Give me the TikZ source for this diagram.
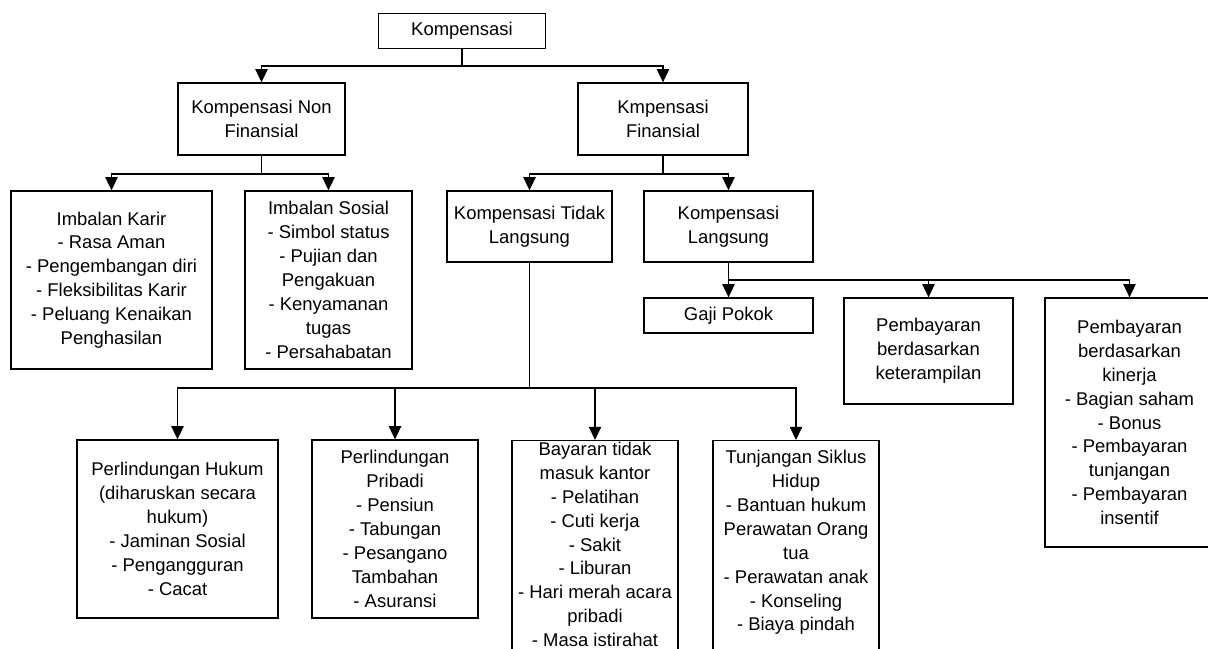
\documentclass[tikz,border=0pt]{standalone}
\usepackage{fontspec}
\setmainfont{Liberation Sans}
\usetikzlibrary{arrows.meta}

\begin{document}
\begin{tikzpicture}[x=0.02cm, y=-0.02cm,
    kotak/.style={draw, line width=0.75pt, align=center, inner sep=2pt, font=\fontsize{10.5}{13.6}\selectfont},
    panah/.style={-{Triangle[width=7pt,length=7.5pt]}, line width=0.75pt}]
      \useasboundingbox[fill=white] (0,0) rectangle (1208,649);
      \clip (0,0) rectangle (1208,649);
      % tingkat atas
      \node[kotak, minimum width=3.34cm, minimum height=0.70cm] (komp) at (462,31) {Kompensasi};
      \node[kotak, minimum width=3.34cm, minimum height=1.44cm] (nonfin) at (261.5,119) {Kompensasi Non\\Finansial};
      \node[kotak, minimum width=3.40cm, minimum height=1.44cm] (fin) at (663,119) {Kmpensasi\\Finansial};
      % non finansial
      \node[kotak, minimum width=4.02cm, minimum height=3.56cm] (karir) at (111.5,280) {Imbalan Karir\\- Rasa Aman\\- Pengembangan diri\\- Fleksibilitas Karir\\- Peluang Kenaikan\\Penghasilan};
      \node[kotak, minimum width=3.34cm, minimum height=3.56cm] (sosial) at (328.5,280) {Imbalan Sosial\\- Simbol status\\- Pujian dan\\Pengakuan\\- Kenyamanan\\tugas\\- Persahabatan};
      % finansial
      \node[kotak, minimum width=3.30cm, minimum height=1.42cm] (tidak) at (529.5,226.5) {Kompensasi Tidak\\Langsung};
      \node[kotak, minimum width=3.38cm, minimum height=1.42cm] (langsung) at (728.5,226.5) {Kompensasi\\Langsung};
      \node[kotak, minimum width=3.38cm, minimum height=0.70cm] (gaji) at (728.5,315.5) {Gaji Pokok};
      \node[kotak, minimum width=3.38cm, minimum height=2.12cm] (terampil) at (928.5,351) {Pembayaran\\berdasarkan\\keterampilan};
      \node[kotak, minimum width=3.38cm, minimum height=4.98cm] (kinerja) at (1129.5,422.5) {Pembayaran\\berdasarkan\\kinerja\\- Bagian saham\\- Bonus\\- Pembayaran\\tunjangan\\- Pembayaran\\insentif};
      % tidak langsung
      \node[kotak, minimum width=4.02cm, minimum height=3.56cm] (hukum) at (177.5,529) {Perlindungan Hukum\\(diharuskan secara\\hukum)\\- Jaminan Sosial\\- Pengangguran\\- Cacat};
      \node[kotak, minimum width=3.32cm, minimum height=3.56cm] (pribadi) at (395,529) {Perlindungan\\Pribadi\\- Pensiun\\- Tabungan\\- Pesangano\\Tambahan\\- Asuransi};
      \node[kotak, minimum width=3.32cm, inner ysep=0.8pt, text depth=6cm, anchor=north] (bayaran) at (595,440) {Bayaran tidak\\masuk kantor\\- Pelatihan\\- Cuti kerja\\- Sakit\\- Liburan\\- Hari merah acara\\pribadi\\- Masa istirahat};
      \node[kotak, minimum width=3.32cm, inner ysep=5.5pt, text depth=6cm, anchor=north] (tunjangan) at (796,440) {Tunjangan Siklus\\Hidup\\- Bantuan hukum\\Perawatan Orang\\tua\\- Perawatan anak\\- Konseling\\- Biaya pindah};
      % penghubung
      \coordinate (barA) at (462,66);
      \coordinate (barB) at (261.5,174);
      \coordinate (barC) at (663,174);
      \coordinate (barD) at (728.5,280);
      \coordinate (barE) at (529.5,388);
      \draw[line width=0.75pt] (komp.south) -- (barA);
      \draw[panah] (barA) -| (nonfin.north);
      \draw[panah] (barA) -| (fin.north);
      \draw[line width=0.75pt] (nonfin.south) -- (barB);
      \draw[panah] (barB) -| (karir.north);
      \draw[panah] (barB) -| (sosial.north);
      \draw[line width=0.75pt] (fin.south) -- (barC);
      \draw[panah] (barC) -| (tidak.north);
      \draw[panah] (barC) -| (langsung.north);
      \draw[panah] (langsung.south) -- (gaji.north);
      \draw[line width=1.5pt] (barD) -- (barD -| terampil.north);
      \draw[panah] (barD) -| (terampil.north);
      \draw[panah] (barD) -| (kinerja.north);
      \draw[line width=0.75pt] (tidak.south) -- (barE);
      \draw[panah] (barE) -| (hukum.north);
      \draw[panah] (barE) -| (pribadi.north);
      \draw[panah] (barE) -| (bayaran.north);
      \draw[panah] (barE) -| (tunjangan.north);
    \end{tikzpicture}
\end{document}
